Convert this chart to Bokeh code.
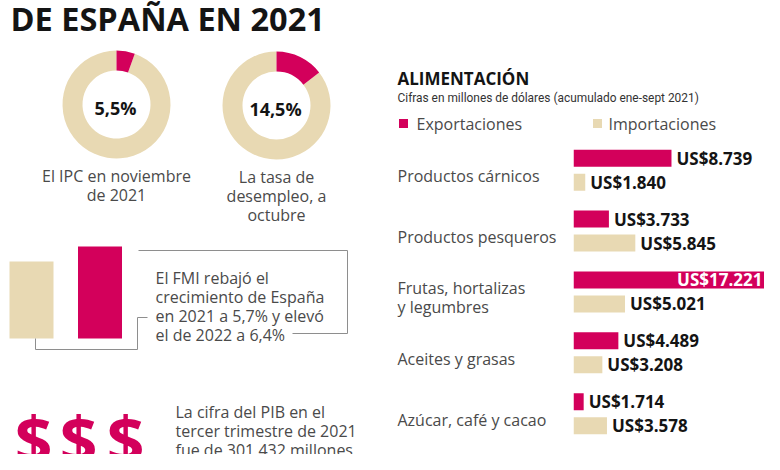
from bokeh.plotting import figure
from bokeh.layouts import row, column
from bokeh.models import Range1d, ColumnDataSource
from bokeh.core.properties import value
from bokeh.embed import file_html
from bokeh.resources import INLINE

# ---------------- data ----------------
TITLE = "DE ESPAÑA EN 2021"
DONUT_VALUES = [5.5, 14.5]
DONUT_LABELS = ["5,5%", "14,5%"]
DONUT_CAPTIONS = [["El IPC en noviembre", "de 2021"],
                  ["La tasa de", "desempleo, a", "octubre"]]
GROWTH_YEARS = ["2021", "2022"]
GROWTH_VALUES = [5.7, 6.4]
GROWTH_TEXT = ["El FMI rebajó el", "crecimiento de España",
               "en 2021 a 5,7% y elevó", "el de 2022 a 6,4%"]
PIB_TEXT = ["La cifra del PIB en el", "tercer trimestre de 2021",
            "fue de 301.432 millones", "de euros (US$341.673"]
BAR_TITLE = "ALIMENTACIÓN"
BAR_SUBTITLE = "Cifras en millones de dólares (acumulado ene-sept 2021)"
SERIES = ["Exportaciones", "Importaciones"]
CATEGORIES = ["Productos cárnicos", "Productos pesqueros",
              "Frutas, hortalizas\ny legumbres", "Aceites y grasas",
              "Azúcar, café y cacao", "Lácteos y huevos"]
EXPORTS = [8.739, 3.733, 17.221, 4.489, 1.714, 1.503]
IMPORTS = [1.840, 5.845, 5.021, 3.208, 3.578]

# ---------------- style ----------------
PINK = "#D3005B"
BEIGE = "#E8D9B3"
DARK = "#141414"
GRAY_TXT = "#4a4a4a"
LINE_GRAY = "#8E8E8E"
FONT = value("Open Sans")
COND_FONT = value("Roboto")

W, H = 764, 454
SPLIT_X = 382          # left panel / right panel
HEADER_H = 140         # header of the bar chart
BAR_LEFT = 573         # left edge of the bar area


def blank(p):
    p.xgrid.visible = False
    p.ygrid.visible = False
    p.outline_line_color = None
    p.background_fill_color = "white"
    p.border_fill_color = "white"
    p.min_border = 0
    return p


def fig(w, h, xr, yr):
    return blank(figure(width=w, height=h, x_range=xr, y_range=yr,
                        output_backend="svg", toolbar_location=None,
                        x_axis_location=None, y_axis_location=None))


# ---------------- left panel ----------------
left = fig(SPLIT_X, H, Range1d(0, SPLIT_X), Range1d(H, 0))

left.text(x=[10], y=[18], text=[TITLE], text_font=FONT, text_font_style="bold",
          text_font_size="32.5px", text_color=DARK, text_baseline="middle")

donut_cx = [116, 276]
donut_cy = [104, 105]
r_in, r_out = 34, 54
for cx, cy, v, lab, cap in zip(donut_cx, donut_cy, DONUT_VALUES, DONUT_LABELS, DONUT_CAPTIONS):
    a = v / 100 * 360
    left.annular_wedge(x=[cx], y=[cy], inner_radius=r_in, outer_radius=r_out,
                       start_angle=[90], end_angle=[90 - a], start_angle_units="deg",
                       end_angle_units="deg", fill_color=BEIGE, line_color=None)
    left.annular_wedge(x=[cx], y=[cy], inner_radius=r_in, outer_radius=r_out,
                       start_angle=[90 - a], end_angle=[90], start_angle_units="deg",
                       end_angle_units="deg", fill_color=PINK, line_color=None)
    left.text(x=[cx - 1], y=[cy + 3], text=[lab], text_font=FONT, text_font_style="bold",
              text_font_size="18px", text_color=DARK, text_align="center",
              text_baseline="middle")
    left.text(x=[cx] * len(cap), y=[cy + 71 + 19 * i for i in range(len(cap))], text=cap,
              text_font=FONT, text_font_size="16px", text_color=GRAY_TXT,
              text_align="center", text_baseline="middle")

# growth bars (axis truncated at 2.1)
g_base_y, g_axis_min, g_scale = 338, 2.1, 21.4
g_tops = [g_base_y - (v - g_axis_min) * g_scale for v in GROWTH_VALUES]
left.vbar(x=[31, 99.5], width=44, bottom=g_base_y, top=g_tops,
          fill_color=[BEIGE, PINK], line_color=None)
left.multi_line(xs=[[138, 347, 347, 292], [35, 35, 137, 137, 147]],
                ys=[[250, 250, 333, 333], [338, 349, 349, 317, 317]],
                line_color=LINE_GRAY, line_width=1)
left.text(x=[155] * len(GROWTH_TEXT), y=[277 + 19 * i for i in range(len(GROWTH_TEXT))],
          text=GROWTH_TEXT, text_font=FONT, text_font_size="16px", text_color=GRAY_TXT,
          text_baseline="middle")

# dollar signs and PIB text
left.text(x=[33, 78, 125], y=[438] * 3, text=["$"] * 3, text_font=FONT,
          text_font_style="bold", text_font_size="66px", text_color=PINK,
          text_align="center", text_baseline="middle")
left.text(x=[175] * len(PIB_TEXT), y=[411 + 19 * i for i in range(len(PIB_TEXT))],
          text=PIB_TEXT, text_font=FONT, text_font_size="16px", text_color=GRAY_TXT,
          text_baseline="middle")

# ---------------- header of bar chart ----------------
header = fig(W - SPLIT_X, HEADER_H, Range1d(SPLIT_X, W), Range1d(HEADER_H, 0))
header.text(x=[397], y=[78], text=[BAR_TITLE], text_font=FONT, text_font_style="bold",
            text_font_size="17px", text_color=DARK, text_baseline="middle")
header.text(x=[397], y=[97], text=[BAR_SUBTITLE], text_font=COND_FONT,
            text_font_size="11.9px", text_color="#333333", text_baseline="middle")
header.rect(x=[403, 597], y=[123, 123], width=9, height=9,
            fill_color=[PINK, BEIGE], line_color=None)
header.text(x=[416, 608], y=[123, 123], text=SERIES, text_font=FONT,
            text_font_size="16px", text_color=GRAY_TXT, text_baseline="middle")

# ---------------- bar chart ----------------
GROUP_PX = 60.87
FIRST_GROUP_Y = 169.7
y_range = Range1d((H - FIRST_GROUP_Y) / GROUP_PX, (HEADER_H - FIRST_GROUP_Y) / GROUP_PX)
dodge = 12 / GROUP_PX
bar_h = 17 / GROUP_PX

labels = fig(BAR_LEFT - SPLIT_X, H - HEADER_H, Range1d(SPLIT_X, BAR_LEFT), y_range)
lx, ly, lt = [], [], []
line_h = 19 / GROUP_PX
for i, c in enumerate(CATEGORIES):
    parts = c.split("\n")
    for j, t in enumerate(parts):
        lx.append(397)
        ly.append(i + 6 / GROUP_PX + (j - (len(parts) - 1) / 2) * line_h)
        lt.append(t)
labels.text(x=lx, y=ly, text=lt, text_font=FONT, text_font_size="16px",
            text_color=GRAY_TXT, text_baseline="middle")

x_start, px_per_unit = 0.9, 12.5
bar_w = W - BAR_LEFT
bars = fig(bar_w, H - HEADER_H, Range1d(x_start, x_start + bar_w / px_per_unit), y_range)

exp_src = ColumnDataSource(dict(y=[i - dodge for i in range(len(EXPORTS))], v=EXPORTS))
imp_src = ColumnDataSource(dict(y=[i + dodge for i in range(len(IMPORTS))], v=IMPORTS))
bars.hbar(y="y", right="v", left=0, height=bar_h, source=exp_src, fill_color=PINK, line_color=None)
bars.hbar(y="y", right="v", left=0, height=bar_h, source=imp_src, fill_color=BEIGE, line_color=None)

x_end = bars.x_range.end
for vals, ys in ((EXPORTS, exp_src.data["y"]), (IMPORTS, imp_src.data["y"])):
    out_x, out_y, out_t, in_x, in_y, in_t = [], [], [], [], [], []
    for v, y in zip(vals, ys):
        t = "US$" + f"{v:.3f}"
        if v > x_end - 4:
            in_x.append(x_end); in_y.append(y); in_t.append(t)
        else:
            out_x.append(v); out_y.append(y); out_t.append(t)
    bars.text(x=out_x, y=out_y, text=out_t, x_offset=5, text_font=FONT,
              text_font_style="bold", text_font_size="17px", text_color=DARK,
              text_baseline="middle")
    if in_t:
        bars.text(x=in_x, y=in_y, text=in_t, x_offset=-2, text_font=FONT,
                  text_font_style="bold", text_font_size="17px", text_color="white",
                  text_align="right", text_baseline="middle")

layout = row(left, column(header, row(labels, bars)))
open("out.html", "w").write(file_html(layout, INLINE))
